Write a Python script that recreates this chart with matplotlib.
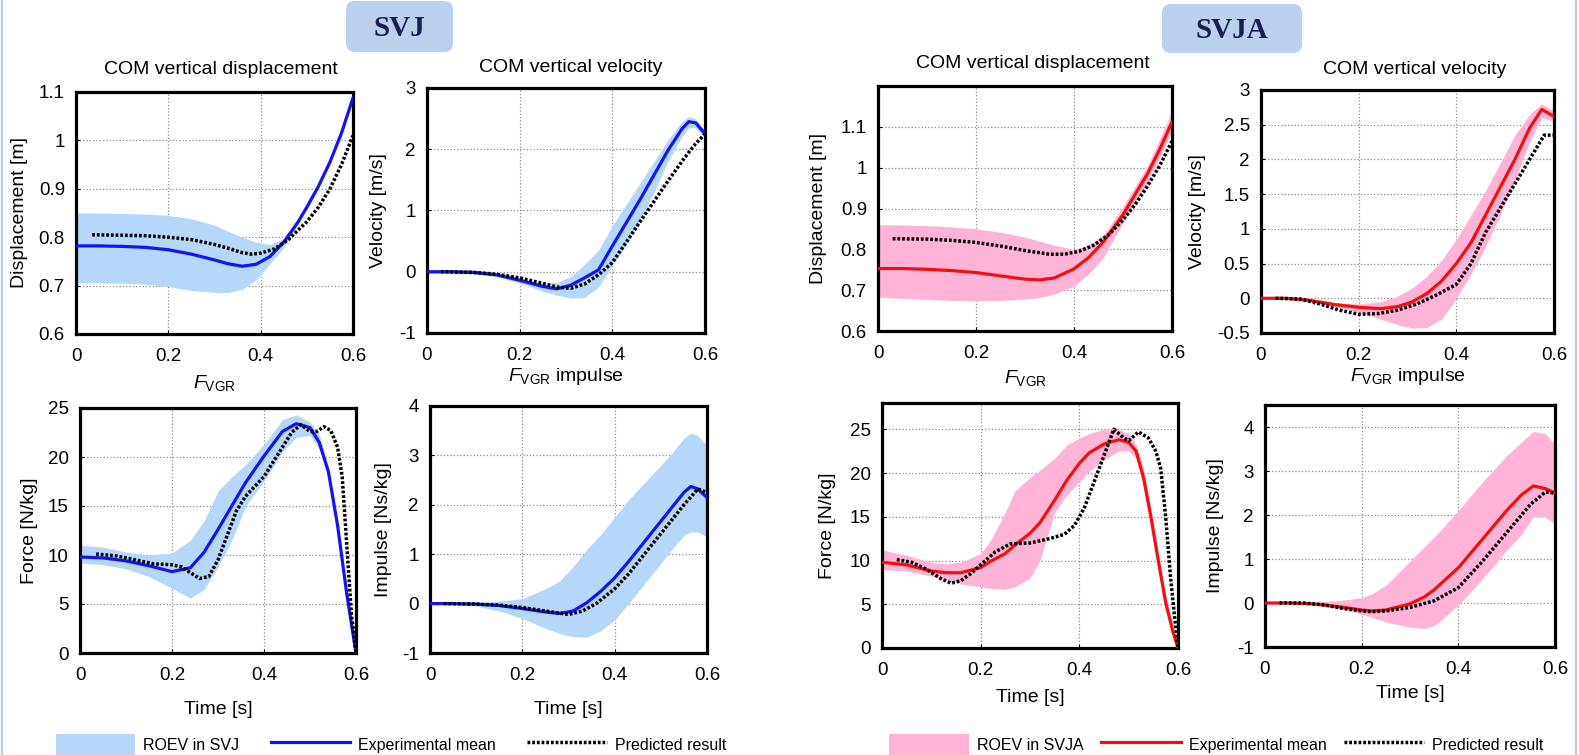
import matplotlib
matplotlib.use("Agg")
import matplotlib.pyplot as plt
from matplotlib.patches import FancyBboxPatch, Patch
from matplotlib.lines import Line2D

plt.rcParams['font.family'] = ['Liberation Sans', 'DejaVu Sans']
plt.rcParams['mathtext.fontset'] = 'custom'
plt.rcParams['mathtext.rm'] = 'Liberation Sans'
plt.rcParams['mathtext.it'] = 'Liberation Sans:italic'

# ---------------- data ----------------
# SVJ: COM vertical displacement
svj_disp_t = [0, 0.05, 0.1, 0.15, 0.2, 0.25, 0.3, 0.33, 0.36, 0.39, 0.42, 0.45, 0.48, 0.5, 0.525, 0.55, 0.575, 0.6]
svj_disp_mean = [0.782, 0.782, 0.781, 0.779, 0.774, 0.765, 0.753, 0.745, 0.740, 0.744, 0.760, 0.790, 0.830, 0.862, 0.905, 0.955, 1.015, 1.088]
svj_disp_hi = [0.850, 0.850, 0.849, 0.848, 0.845, 0.838, 0.825, 0.812, 0.800, 0.790, 0.785, 0.797, 0.834, 0.866, 0.909, 0.959, 1.019, 1.092]
svj_disp_lo = [0.706, 0.706, 0.705, 0.703, 0.698, 0.690, 0.686, 0.686, 0.692, 0.712, 0.745, 0.778, 0.826, 0.858, 0.901, 0.951, 1.011, 1.084]
svj_disp_pt = [0.035, 0.1, 0.15, 0.2, 0.25, 0.3, 0.33, 0.36, 0.38, 0.4, 0.43, 0.46, 0.5, 0.525, 0.55, 0.575, 0.6]
svj_disp_pred = [0.805, 0.804, 0.803, 0.800, 0.795, 0.785, 0.777, 0.768, 0.765, 0.767, 0.776, 0.795, 0.832, 0.862, 0.900, 0.950, 1.010]

# SVJ: COM vertical velocity
svj_vel_t = [0, 0.05, 0.1, 0.15, 0.2, 0.25, 0.28, 0.31, 0.34, 0.37, 0.4, 0.43, 0.46, 0.49, 0.52, 0.55, 0.565, 0.58, 0.6]
svj_vel_mean = [0, 0, -0.01, -0.05, -0.14, -0.24, -0.28, -0.22, -0.10, 0.03, 0.42, 0.80, 1.18, 1.58, 1.98, 2.33, 2.45, 2.43, 2.25]
svj_vel_hi = [0.03, 0.03, 0.02, -0.02, -0.10, -0.18, -0.18, -0.08, 0.12, 0.35, 0.75, 1.10, 1.45, 1.80, 2.15, 2.45, 2.53, 2.50, 2.30]
svj_vel_lo = [-0.03, -0.03, -0.04, -0.08, -0.18, -0.32, -0.38, -0.43, -0.42, -0.25, 0.10, 0.45, 0.85, 1.30, 1.80, 2.20, 2.35, 2.35, 2.20]
svj_vel_pt = [0.03, 0.1, 0.15, 0.2, 0.25, 0.28, 0.31, 0.34, 0.37, 0.4, 0.43, 0.46, 0.49, 0.52, 0.55, 0.575, 0.6]
svj_vel_pred = [0, -0.01, -0.04, -0.10, -0.19, -0.25, -0.27, -0.20, -0.05, 0.15, 0.48, 0.82, 1.15, 1.48, 1.80, 2.05, 2.25]

# SVJ: F_VGR
svj_f_t = [0, 0.05, 0.1, 0.15, 0.2, 0.24, 0.27, 0.3, 0.33, 0.36, 0.4, 0.44, 0.47, 0.5, 0.52, 0.54, 0.56, 0.58, 0.6]
svj_f_mean = [9.8, 9.7, 9.4, 8.9, 8.3, 8.7, 10.3, 12.6, 15.0, 17.4, 20.1, 22.6, 23.4, 23.0, 21.5, 18.5, 13.0, 6.0, 0.0]
svj_f_hi = [11.0, 10.8, 10.3, 10.0, 10.2, 11.5, 13.5, 16.5, 18.0, 19.2, 21.3, 23.8, 24.3, 23.6, 22.3, 19.0, 13.5, 6.3, 0.2]
svj_f_lo = [9.2, 9.0, 8.6, 7.8, 6.6, 5.6, 6.5, 8.8, 11.5, 15.0, 17.5, 20.5, 22.0, 22.2, 20.8, 18.0, 12.5, 5.7, 0.0]
svj_f_pt = [0.035, 0.08, 0.12, 0.16, 0.2, 0.22, 0.24, 0.26, 0.28, 0.3, 0.32, 0.34, 0.36, 0.38, 0.4, 0.42, 0.44, 0.46, 0.48, 0.5, 0.515, 0.53, 0.545, 0.56, 0.57, 0.58, 0.59, 0.6]
svj_f_pred = [10.1, 9.9, 9.5, 9.1, 9.0, 8.8, 8.2, 7.6, 7.8, 9.5, 12.0, 14.5, 16.0, 17.0, 18.0, 19.5, 21.0, 22.5, 23.3, 22.6, 22.6, 23.1, 22.7, 21.0, 18.0, 11.0, 4.0, 0.0]

# SVJ: F_VGR impulse
svj_imp_t = [0, 0.05, 0.1, 0.15, 0.2, 0.25, 0.28, 0.31, 0.34, 0.37, 0.4, 0.43, 0.46, 0.49, 0.52, 0.55, 0.565, 0.58, 0.6]
svj_imp_mean = [0, 0, -0.01, -0.04, -0.10, -0.17, -0.20, -0.15, 0.02, 0.25, 0.52, 0.85, 1.20, 1.55, 1.90, 2.25, 2.37, 2.32, 2.15]
svj_imp_hi = [0, 0.01, 0.02, 0.05, 0.10, 0.30, 0.45, 0.75, 1.10, 1.40, 1.75, 2.10, 2.40, 2.70, 3.00, 3.35, 3.45, 3.40, 3.20]
svj_imp_lo = [0, -0.01, -0.05, -0.15, -0.30, -0.50, -0.60, -0.67, -0.68, -0.55, -0.33, 0.00, 0.35, 0.70, 1.05, 1.38, 1.45, 1.45, 1.35]
svj_imp_pt = [0.03, 0.1, 0.15, 0.2, 0.25, 0.3, 0.33, 0.36, 0.4, 0.43, 0.46, 0.49, 0.52, 0.55, 0.58, 0.6]
svj_imp_pred = [0, -0.01, -0.03, -0.08, -0.15, -0.22, -0.15, 0.0, 0.30, 0.60, 0.95, 1.30, 1.65, 2.00, 2.32, 2.25]

# SVJA: COM vertical displacement
svja_disp_t = [0, 0.05, 0.1, 0.15, 0.2, 0.25, 0.3, 0.33, 0.36, 0.4, 0.43, 0.46, 0.5, 0.525, 0.55, 0.575, 0.6]
svja_disp_mean = [0.753, 0.753, 0.751, 0.748, 0.743, 0.735, 0.727, 0.725, 0.730, 0.752, 0.780, 0.818, 0.885, 0.935, 0.985, 1.045, 1.112]
svja_disp_hi = [0.860, 0.860, 0.858, 0.855, 0.850, 0.842, 0.830, 0.820, 0.810, 0.800, 0.810, 0.835, 0.905, 0.955, 1.005, 1.070, 1.140]
svja_disp_lo = [0.683, 0.680, 0.677, 0.675, 0.674, 0.675, 0.678, 0.682, 0.690, 0.710, 0.740, 0.780, 0.865, 0.915, 0.965, 1.025, 1.090]
svja_disp_pt = [0.03, 0.1, 0.15, 0.2, 0.25, 0.3, 0.35, 0.38, 0.41, 0.44, 0.47, 0.5, 0.525, 0.55, 0.575, 0.6]
svja_disp_pred = [0.826, 0.825, 0.822, 0.817, 0.808, 0.797, 0.788, 0.788, 0.795, 0.810, 0.835, 0.872, 0.910, 0.955, 1.005, 1.065]

# SVJA: COM vertical velocity
svja_vel_t = [0, 0.05, 0.1, 0.15, 0.2, 0.245, 0.28, 0.31, 0.34, 0.37, 0.4, 0.43, 0.46, 0.49, 0.52, 0.55, 0.575, 0.6]
svja_vel_mean = [0, 0, -0.03, -0.09, -0.13, -0.15, -0.12, -0.05, 0.07, 0.25, 0.50, 0.80, 1.20, 1.60, 2.00, 2.45, 2.72, 2.62]
svja_vel_hi = [0, 0, -0.01, -0.06, -0.08, -0.05, 0.03, 0.15, 0.32, 0.55, 0.85, 1.20, 1.55, 1.95, 2.35, 2.65, 2.80, 2.70]
svja_vel_lo = [0, 0, -0.05, -0.12, -0.20, -0.30, -0.38, -0.43, -0.42, -0.30, 0.00, 0.35, 0.75, 1.20, 1.70, 2.25, 2.60, 2.55]
svja_vel_pt = [0.03, 0.08, 0.12, 0.16, 0.2, 0.24, 0.28, 0.32, 0.36, 0.4, 0.43, 0.46, 0.49, 0.52, 0.55, 0.58, 0.6]
svja_vel_pred = [0, -0.01, -0.08, -0.17, -0.23, -0.22, -0.17, -0.08, 0.05, 0.20, 0.50, 0.95, 1.30, 1.65, 2.00, 2.35, 2.35]

# SVJA: F_VGR
svja_f_t = [0, 0.05, 0.1, 0.13, 0.16, 0.2, 0.22, 0.25, 0.27, 0.3, 0.32, 0.35, 0.375, 0.4, 0.42, 0.45, 0.48, 0.5, 0.515, 0.53, 0.545, 0.56, 0.575, 0.59, 0.6]
svja_f_mean = [9.8, 9.5, 8.8, 8.6, 8.6, 9.2, 9.9, 10.8, 11.8, 13.1, 14.3, 16.9, 19.2, 21.1, 22.3, 23.3, 23.8, 23.5, 22.5, 19.5, 15.0, 10.0, 5.2, 1.8, 0.0]
svja_f_hi = [11.2, 10.6, 9.8, 9.6, 9.8, 10.8, 12.3, 15.5, 18.0, 19.5, 20.3, 21.7, 23.2, 24.0, 24.5, 25.0, 25.0, 24.5, 23.3, 20.5, 16.0, 11.0, 6.0, 2.3, 0.3]
svja_f_lo = [9.0, 8.8, 8.2, 7.8, 7.3, 7.0, 6.8, 6.7, 7.0, 8.0, 10.0, 15.5, 17.5, 19.0, 20.2, 21.5, 22.5, 22.5, 21.7, 18.5, 14.0, 9.0, 4.4, 1.3, 0.0]
svja_f_pt = [0.03, 0.06, 0.09, 0.12, 0.14, 0.16, 0.18, 0.2, 0.23, 0.26, 0.3, 0.34, 0.37, 0.39, 0.41, 0.43, 0.45, 0.47, 0.49, 0.5, 0.52, 0.54, 0.555, 0.565, 0.575, 0.585, 0.595, 0.6]
svja_f_pred = [10.1, 9.8, 9.0, 7.9, 7.4, 7.7, 8.5, 9.5, 11.0, 11.9, 12.0, 12.5, 13.0, 14.0, 16.0, 19.0, 22.0, 25.0, 24.0, 23.7, 24.7, 24.0, 22.5, 20.5, 15.0, 8.0, 2.5, 0.0]

# SVJA: F_VGR impulse
svja_imp_t = [0, 0.05, 0.1, 0.15, 0.2, 0.22, 0.25, 0.3, 0.33, 0.35, 0.4, 0.45, 0.5, 0.53, 0.555, 0.58, 0.6]
svja_imp_mean = [0, 0, -0.02, -0.08, -0.16, -0.18, -0.16, -0.02, 0.14, 0.30, 0.80, 1.45, 2.10, 2.45, 2.66, 2.60, 2.50]
svja_imp_hi = [0, 0, 0.02, 0.05, 0.12, 0.20, 0.40, 0.95, 1.28, 1.50, 2.10, 2.75, 3.35, 3.65, 3.90, 3.85, 3.60]
svja_imp_lo = [0, 0, -0.04, -0.12, -0.25, -0.32, -0.43, -0.55, -0.58, -0.52, -0.05, 0.55, 1.20, 1.55, 1.95, 1.95, 1.80]
svja_imp_pt = [0.03, 0.08, 0.12, 0.16, 0.2, 0.22, 0.25, 0.3, 0.35, 0.4, 0.45, 0.5, 0.55, 0.58, 0.6]
svja_imp_pred = [0, 0, -0.04, -0.12, -0.18, -0.20, -0.18, -0.10, 0.05, 0.35, 0.95, 1.60, 2.25, 2.52, 2.50]

x_ticks = [0, 0.2, 0.4, 0.6]
titles = ["COM vertical displacement", "COM vertical velocity"]
ylabels = ["Displacement [m]", "Velocity [m/s]", "Force [N/kg]", "Impulse [Ns/kg]"]
xlabels = [r"$F_{\mathrm{VGR}}$", r"$F_{\mathrm{VGR}}$ impulse", "Time [s]", "Time [s]"]
group_names = ["SVJ", "SVJA"]
legend_labels = [["ROEV in SVJ", "Experimental mean", "Predicted result"],
                 ["ROEV in SVJA", "Experimental mean", "Predicted result"]]

# ---------------- style ----------------
W, H = 1579, 755
BAND = {"SVJ": "#b4d7fa", "SVJA": "#ffb3d7"}
LINE = {"SVJ": "#1414ee", "SVJA": "#f01010"}
PRED_LS = (0, (0.8, 0.55))

fig = plt.figure(figsize=(W / 100, H / 100), dpi=100)
fig.patch.set_facecolor("white")


def add_ax(L, T, R, B):
    return fig.add_axes([L / W, 1 - B / H, (R - L) / W, (B - T) / H])


def style_panel(ax, box, ylim, yticks, title=None, title_xy=None, ylabel=None,
                ylabel_x=None, xlabel=None, xlabel_y=None):
    L, T, R, B = box
    ax.set_xlim(0, 0.6)
    ax.set_ylim(*ylim)
    ax.set_xticks(x_ticks)
    ax.set_xticklabels(["%g" % v for v in x_ticks])
    ax.set_yticks(yticks)
    ax.set_yticklabels(["%g" % v for v in yticks])
    ax.tick_params(direction="in", length=3, width=0.8, labelsize=13.5)
    ax.tick_params(axis="x", pad=10)
    ax.tick_params(axis="y", pad=8)
    ax.grid(True, ls=":", color="#8c8c8c", lw=0.9)
    ax.set_axisbelow(True)
    for s in ax.spines.values():
        s.set_linewidth(2.3)
        s.set_color("black")
    fx = lambda px: (px - L) / (R - L)
    fy = lambda py: (B - py) / (B - T)
    if title:
        ax.text(fx(title_xy[0]), fy(title_xy[1]), title, transform=ax.transAxes, ha="center",
                va="center", fontsize=14)
    if ylabel:
        ax.set_ylabel(ylabel, fontsize=14)
        ax.yaxis.label.set_va("center")
        ax.yaxis.set_label_coords(fx(ylabel_x), 0.5)
    if xlabel:
        ax.set_xlabel(xlabel, fontsize=14)
        ax.xaxis.label.set_va("center")
        ax.xaxis.set_label_coords(0.5, fy(xlabel_y))


def draw(ax, g, t, mean, lo, hi, pt, pred):
    ax.fill_between(t, lo, hi, color=BAND[g], lw=0, zorder=1)
    ax.plot(t, mean, color=LINE[g], lw=2.3, zorder=3, solid_capstyle="round",
            solid_joinstyle="round")
    ax.plot(pt, pred, color="black", lw=2.5, ls=PRED_LS, zorder=4)


# SVJ panels
b = (76, 92, 353, 334)
ax = add_ax(*b)
draw(ax, "SVJ", svj_disp_t, svj_disp_mean, svj_disp_lo, svj_disp_hi, svj_disp_pt, svj_disp_pred)
style_panel(ax, b, (0.6, 1.1), [0.6, 0.7, 0.8, 0.9, 1.0, 1.1], titles[0], (221, 70),
            ylabels[0], 20, xlabels[0], 383)

b = (427, 88, 705, 333)
ax = add_ax(*b)
draw(ax, "SVJ", svj_vel_t, svj_vel_mean, svj_vel_lo, svj_vel_hi, svj_vel_pt, svj_vel_pred)
style_panel(ax, b, (-1, 3), [-1, 0, 1, 2, 3], titles[1], (571, 67),
            ylabels[1], 379, xlabels[1], 377)

b = (80, 408, 356, 653)
ax = add_ax(*b)
draw(ax, "SVJ", svj_f_t, svj_f_mean, svj_f_lo, svj_f_hi, svj_f_pt, svj_f_pred)
style_panel(ax, b, (0, 25), [0, 5, 10, 15, 20, 25], None, None,
            ylabels[2], 29, xlabels[2], 709)

b = (430, 406, 707, 653)
ax = add_ax(*b)
draw(ax, "SVJ", svj_imp_t, svj_imp_mean, svj_imp_lo, svj_imp_hi, svj_imp_pt, svj_imp_pred)
style_panel(ax, b, (-1, 4), [-1, 0, 1, 2, 3, 4], None, None,
            ylabels[3], 384, xlabels[3], 709)

# SVJA panels
b = (878, 86, 1172, 331)
ax = add_ax(*b)
draw(ax, "SVJA", svja_disp_t, svja_disp_mean, svja_disp_lo, svja_disp_hi, svja_disp_pt, svja_disp_pred)
style_panel(ax, b, (0.6, 1.2), [0.6, 0.7, 0.8, 0.9, 1.0, 1.1], titles[0], (1033, 63),
            ylabels[0], 818, xlabels[0], 378)

b = (1261, 90, 1554, 333)
ax = add_ax(*b)
draw(ax, "SVJA", svja_vel_t, svja_vel_mean, svja_vel_lo, svja_vel_hi, svja_vel_pt, svja_vel_pred)
style_panel(ax, b, (-0.5, 3), [-0.5, 0, 0.5, 1, 1.5, 2, 2.5, 3], titles[1], (1415, 70),
            ylabels[1], 1197, xlabels[1], 377)

b = (882, 403, 1178, 648)
ax = add_ax(*b)
draw(ax, "SVJA", svja_f_t, svja_f_mean, svja_f_lo, svja_f_hi, svja_f_pt, svja_f_pred)
style_panel(ax, b, (0, 28), [0, 5, 10, 15, 20, 25], None, None,
            ylabels[2], 828, xlabels[2], 697)

b = (1265, 405, 1555, 647)
ax = add_ax(*b)
draw(ax, "SVJA", svja_imp_t, svja_imp_mean, svja_imp_lo, svja_imp_hi, svja_imp_pt, svja_imp_pred)
style_panel(ax, b, (-1, 4.5), [-1, 0, 1, 2, 3, 4], None, None,
            ylabels[3], 1216, xlabels[3], 693)

# ---------------- decorations (group labels, frame) ----------------
deco = fig.add_axes([0, 0, 1, 1], zorder=-1)
deco.set_xlim(0, W)
deco.set_ylim(H, 0)
deco.axis("off")
for (x0, y0, w, h, cx, cy), name in zip([(346, 1, 107, 51, 399, 28), (1162, 4, 140, 49, 1232, 30)], group_names):
    deco.add_patch(FancyBboxPatch((x0, y0), w, h, boxstyle="round,pad=0,rounding_size=9",
                                  fc="#bad0ec", ec="none"))
    deco.text(cx, cy, name, ha="center", va="center", fontsize=21, fontweight="bold",
              family=["Liberation Serif", "DejaVu Serif"], color="#1d1d55")
deco.plot([1.5, 1.5], [0, H], color="#b5cbe4", lw=1.5)
deco.plot([1576, 1576], [0, H], color="#b5cbe4", lw=1.5)

# ---------------- legends ----------------
for g, labels, cx, cs in [("SVJ", legend_labels[0], 391 / W, 1.95), ("SVJA", legend_labels[1], 1216 / W, 1.1)]:
    handles = [Patch(facecolor=BAND[g], edgecolor="none"),
               Line2D([], [], color=LINE[g], lw=2.3),
               Line2D([], [], color="black", lw=2.5, ls=PRED_LS)]
    fig.legend(handles, labels, loc="center", bbox_to_anchor=(cx, 1 - 745 / H), ncol=3,
               frameon=False, fontsize=11.5, handlelength=5.0, handleheight=1.8,
               handletextpad=0.5, columnspacing=cs, borderpad=0, borderaxespad=0)

fig.savefig("out.png", dpi=100)
